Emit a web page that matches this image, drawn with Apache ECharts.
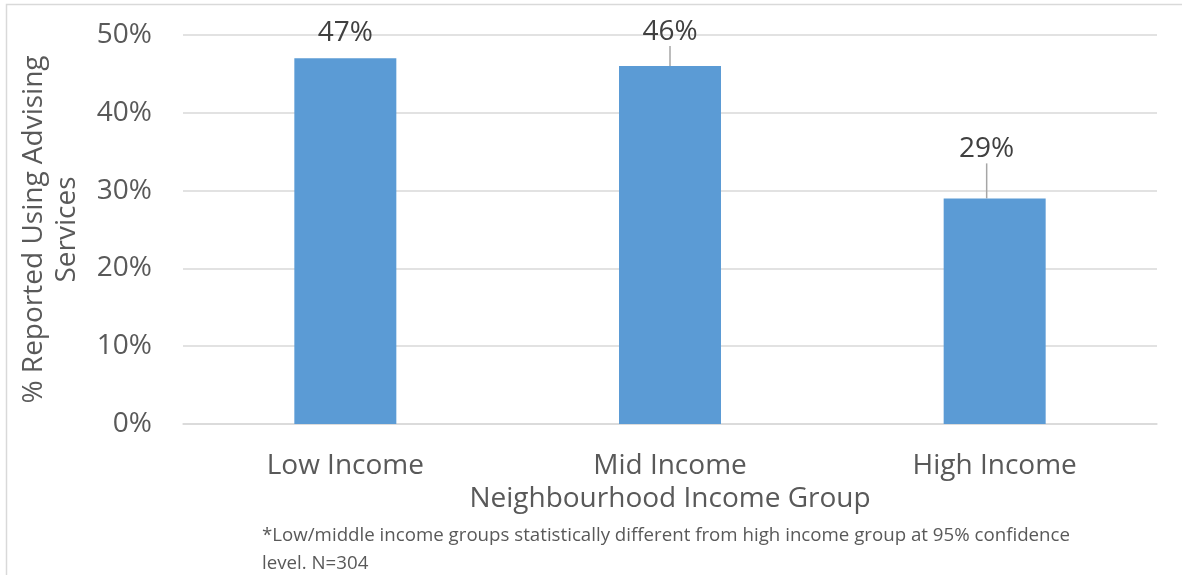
<!DOCTYPE html>
<html>
<head>
<meta charset="utf-8">
<script src="https://cdn.jsdelivr.net/npm/echarts@6/dist/echarts.min.js"></script>
<style>
  html, body { margin: 0; padding: 0; background: #fff; }
  #chart { width: 1182px; height: 575px; }
</style>
</head>
<body>
<div id="chart"></div>
<script>
// Share of respondents reporting use of advising services, by neighbourhood income
const categories = ['Low Income', 'Mid Income', 'High Income'];
const usagePercent = [47, 46, 29];
const yTicks = [0, 10, 20, 30, 40, 50];

const yAxisTitle = '% Reported Using Advising\nServices';
const xAxisTitle = 'Neighbourhood Income Group';
const footnote = '*Low/middle income groups statistically different from high income group at 95% confidence\nlevel. N=304';

const FONT = '"Open Sans", "Noto Sans", sans-serif';
const TEXT = '#595959';

// callout offsets for each value label (dx, dy) and whether a leader line is shown
const callouts = [
  { dx: 0, dy: -5, line: false },
  { dx: 0, dy: -14, line: true },
  { dx: -8, dy: -29, line: true }
];

const chart = echarts.init(document.getElementById('chart'), null, { renderer: 'canvas' });

chart.setOption({
  backgroundColor: '#ffffff',
  animation: false,
  textStyle: { fontFamily: FONT },
  grid: { left: 183, right: 25, top: 35, bottom: 151, containLabel: false, outerBoundsMode: 'none' },
  xAxis: {
    type: 'category',
    data: categories,
    axisTick: { show: false },
    axisLine: { show: true, lineStyle: { color: '#D9D9D9', width: 1.5 } },
    axisLabel: { color: TEXT, fontSize: 28, fontFamily: FONT, margin: 28 },
    name: xAxisTitle,
    nameLocation: 'middle',
    nameGap: 59,
    nameTextStyle: { color: TEXT, fontSize: 28, fontFamily: FONT }
  },
  yAxis: {
    type: 'value',
    min: yTicks[0],
    max: yTicks[yTicks.length - 1],
    interval: yTicks[1] - yTicks[0],
    axisLine: { show: false },
    axisTick: { show: false },
    splitLine: { lineStyle: { color: '#D9D9D9', width: 1.5 } },
    axisLabel: { color: TEXT, fontSize: 28, fontFamily: FONT, margin: 31, formatter: '{value}%' },
    name: yAxisTitle,
    nameLocation: 'middle',
    nameRotate: 90,
    nameGap: 99,
    nameTextStyle: { color: TEXT, fontSize: 28, fontFamily: FONT, lineHeight: 33, align: 'center' }
  },
  series: [{
    type: 'bar',
    data: usagePercent.map((v, i) => ({
      value: v,
      labelLine: { show: callouts[i].line }
    })),
    barWidth: 102,
    itemStyle: { color: '#5B9BD5' },
    label: {
      show: true,
      position: 'top',
      distance: 6,
      color: '#404040',
      fontSize: 28,
      fontFamily: FONT,
      formatter: '{c}%'
    },
    labelLine: {
      show: true,
      lineStyle: { color: '#A6A6A6', width: 1.5 }
    },
    labelLayout: function (params) {
      const c = callouts[params.dataIndex];
      return { dx: c.dx, dy: c.dy };
    }
  }],
  graphic: [
    {
      type: 'rect',
      shape: { x: 6.5, y: 4.5, width: 1400, height: 800 },
      style: { fill: 'none', stroke: '#D9D9D9', lineWidth: 1.5 },
      silent: true,
      z: -1
    },
    {
      type: 'text',
      left: 262,
      top: 522,
      style: {
        text: footnote,
        fill: TEXT,
        font: '18.7px ' + FONT,
        lineHeight: 28
      }
    }
  ]
});
</script>
</body>
</html>
